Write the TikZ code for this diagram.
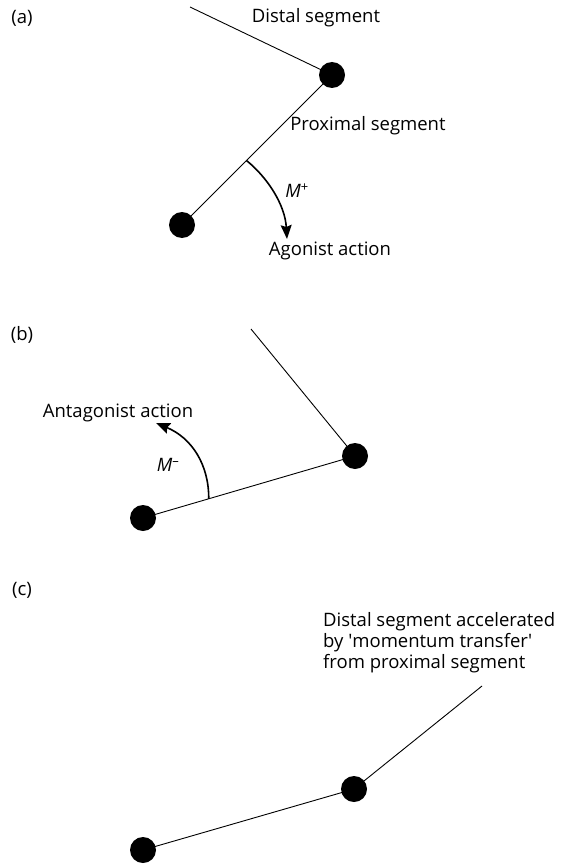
\documentclass[tikz,border=0pt]{standalone}
\usepackage{fontspec}
\setmainfont{Open Sans}
\usepackage{xcolor}
\usetikzlibrary{arrows.meta,calc,positioning}
\newcommand{\mom}[1]{\textit{M}\textsuperscript{#1}}
\tikzset{joint/.style={circle,fill=black,inner sep=0pt,minimum size=26pt},seg/.style={draw=black,line width=.9pt},moment/.style={-{Stealth[length=14pt,width=11pt,inset=2pt]},draw=black,line width=1.6pt},lbl/.style={font=\fontsize{18.5}{21}\selectfont,inner sep=0pt}}

\begin{document}
\begin{tikzpicture}[x=1pt,y=-1pt]
\useasboundingbox (0,0) rectangle (561,864);
% (a)
\node[lbl] (la) at (22,18) {(a)};
\coordinate (da) at (190,7);
\node[joint] (ja) at (332,75) {};
\node[joint] (ba) at (182,225) {};
\draw[seg] (da)--(ja.center);\draw[seg] (ja.center)--(ba.center);
\node[lbl] (tda) at (316,18) {Distal segment};
\node[lbl] (tpa) at (368,126) {Proximal segment};
\coordinate (ma) at ($(ba.center)!0.43!(ja.center)$);
\coordinate (ea) at (287,239);
\draw[moment] (ma) .. controls (268,178) and (285,205) .. (ea);
\node[lbl] (mpa) at (297,191) {\mom{+}};
\node[lbl] (aga) at (330,251) {Agonist action};
% (b)
\node[lbl] (lb) at (22,335) {(b)};
\coordinate (db) at (251,329);
\node[joint] (jb) at (355,456) {};
\node[joint] (bb) at (143,518) {};
\draw[seg] (db)--(jb.center);\draw[seg] (jb.center)--(bb.center);
\coordinate (mb) at ($(bb.center)!0.31!(jb.center)$);
\coordinate (eb) at (156,423);
\draw[moment] (mb) .. controls (209,465) and (192,438) .. (eb);
\node[lbl] (mmb) at (168,465) {\mom{--}};
\node[lbl] (anb) at (118,413) {Antagonist action};
% (c)
\node[lbl] (lc) at (22,590) {(c)};
\coordinate (dc) at (482,686);
\node[joint] (jc) at (354,789) {};
\node[joint] (bc) at (143,850) {};
\draw[seg] (dc)--(jc.center);\draw[seg] (jc.center)--(bc.center);
\node[lbl,align=left,anchor=west] (tdc) at (323,643) {Distal segment accelerated\\by \textquotesingle momentum transfer\textquotesingle\\from proximal segment};
\end{tikzpicture}
\end{document}
